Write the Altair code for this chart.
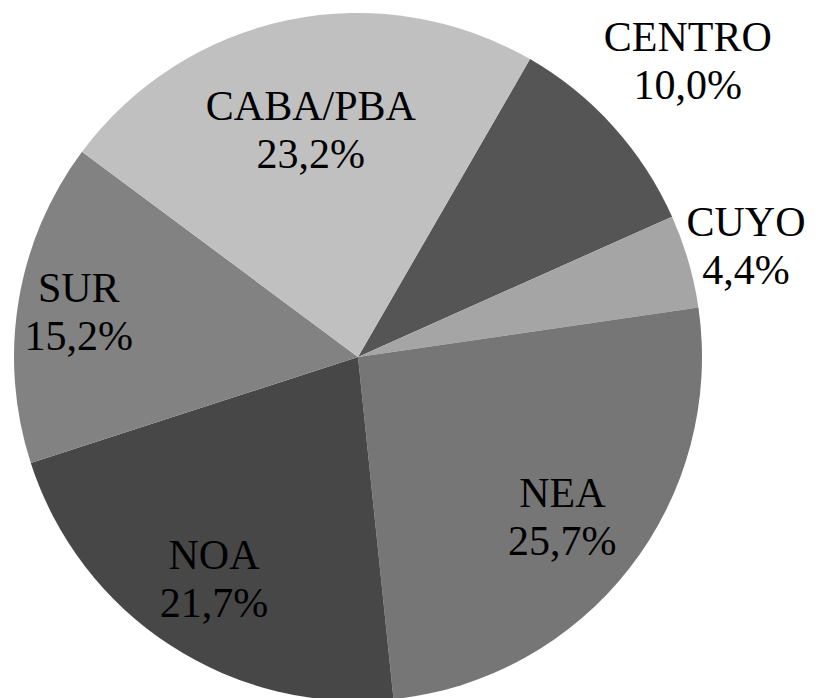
import math
import altair as alt
import pandas as pd

regions = ["CENTRO", "CUYO", "NEA", "NOA", "SUR", "CABA/PBA"]
shares = [10.0, 4.4, 25.7, 21.7, 15.2, 23.2]
share_labels = ["10,0%", "4,4%", "25,7%", "21,7%", "15,2%", "23,2%"]
greys = ["#555555", "#a5a5a5", "#767676", "#474747", "#828282", "#c0c0c0"]
label_radius = [444, 404, 259, 264, 283, 233]

df = pd.DataFrame({
    "region": regions,
    "share": shares,
    "idx": list(range(len(regions))),
    "lr": label_radius,
    "label": [f"{r}\n{s}" for r, s in zip(regions, share_labels)],
})

total = sum(shares)
start = math.radians(30)
theta_scale = alt.Scale(domain=[0, total], range=[start, start + 2 * math.pi])

pie = alt.Chart(df).mark_arc(radius=344, stroke=None).encode(
    theta=alt.Theta("share:Q", stack=True, scale=theta_scale),
    order=alt.Order("idx:Q"),
    x=alt.value(350),
    y=alt.value(349),
    color=alt.Color("region:N", scale=alt.Scale(domain=regions, range=greys), legend=None),
)

text = alt.Chart(df).transform_window(
    cum="sum(share)", sort=[alt.SortField("idx")]
).transform_calculate(
    mid="datum.cum - datum.share / 2"
).mark_text(
    font="Liberation Serif", fontSize=42, lineHeight=48, lineBreak="\n",
    color="black", align="center", baseline="middle", dy=-22
).encode(
    theta=alt.Theta("mid:Q", stack=None, scale=theta_scale),
    radius=alt.Radius("lr:Q", scale=None),
    x=alt.value(350),
    y=alt.value(349),
    text="label:N",
)

chart = alt.layer(pie, text).properties(
    width=800, height=690, autosize="none", padding=0
).configure_view(stroke=None)

chart.save("out.html", embed_options={"renderer": "svg", "actions": False})
